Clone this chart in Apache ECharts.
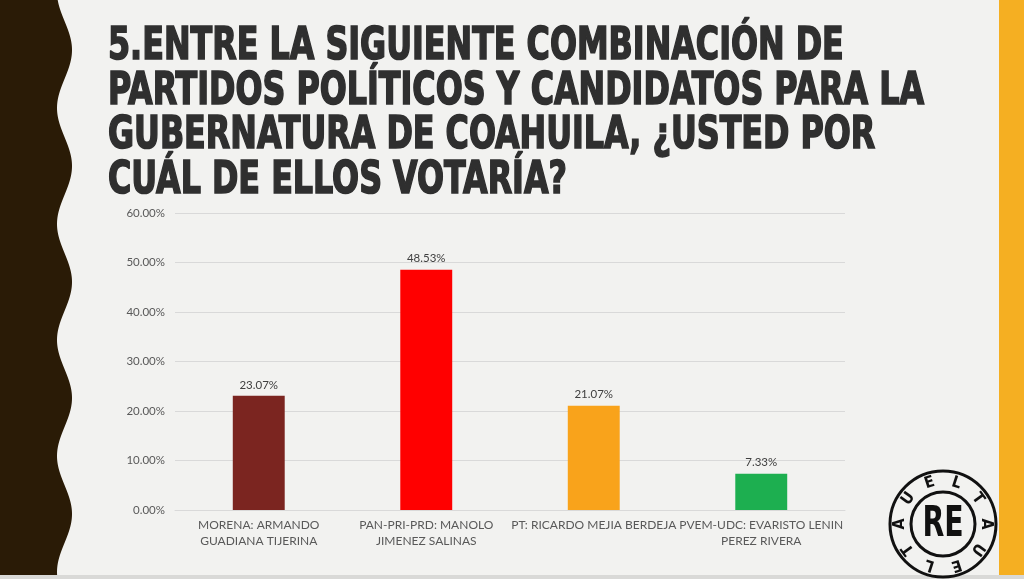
<!DOCTYPE html>
<html>
<head>
<meta charset="utf-8">
<script src="https://cdn.jsdelivr.net/npm/echarts@6/dist/echarts.min.js"></script>
<style>
  html, body { margin: 0; padding: 0; background: #f2f2f0; }
  #chart { width: 1024px; height: 579px; }
</style>
</head>
<body>
<div id="chart"></div>
<script>
// data
const categories = [
  'MORENA: ARMANDO\nGUADIANA TIJERINA',
  'PAN-PRI-PRD: MANOLO\nJIMENEZ SALINAS',
  'PT: RICARDO MEJIA BERDEJA',
  'PVEM-UDC: EVARISTO LENIN\nPEREZ RIVERA'
];
const values = [23.07, 48.53, 21.07, 7.33];
const barColors = ['#7b2520', '#ff0000', '#f9a31b', '#1daf50'];
const titleLines = [
  '5.ENTRE LA SIGUIENTE COMBINACIÓN DE',
  'PARTIDOS POLÍTICOS Y CANDIDATOS PARA LA',
  'GUBERNATURA DE COAHUILA, ¿USTED POR',
  'CUÁL DE ELLOS VOTARÍA?'
];
const ringLetters = ['U', 'E', 'L', 'T', 'A', 'U', 'E', 'L', 'T', 'A'];

const titleFont = '"DejaVu Sans Condensed", "DejaVu Sans", sans-serif';
const titleSize = 45;

// squeeze the title so it reads like the narrow display face in the slide
const ctx = document.createElement('canvas').getContext('2d');
ctx.font = 'bold ' + titleSize + 'px ' + titleFont;
const titleScale = 816 / ctx.measureText(titleLines[1]).width;

const graphics = [];

// wavy dark band on the left
const wave = [];
for (let y = 0; y <= 579; y += 2) {
  wave.push([64.5 + 7.5 * Math.cos(2 * Math.PI * (y - 50) / 116), y]);
}
wave.push([0, 579], [0, 0]);
graphics.push({ type: 'polygon', shape: { points: wave }, style: { fill: '#2a1b06' }, silent: true });

// orange band on the right and thin grey strip at the bottom
graphics.push({ type: 'rect', shape: { x: 999, y: 0, width: 25, height: 579 }, style: { fill: '#f5af22' }, silent: true });
graphics.push({ type: 'rect', shape: { x: 0, y: 575, width: 1024, height: 4 }, style: { fill: '#d9d9d7' }, silent: true });

// title
const titleY = [47, 92, 136, 181];
titleLines.forEach((t, i) => {
  graphics.push({
    type: 'text', x: 108, y: titleY[i], scaleX: titleScale,
    style: {
      text: t, fill: '#2f2f2f', stroke: '#2f2f2f', lineWidth: 1.6,
      font: 'bold ' + titleSize + 'px ' + titleFont,
      textAlign: 'left', textVerticalAlign: 'middle'
    },
    silent: true
  });
});

// logo
const cx = 943, cy = 524;
graphics.push({ type: 'circle', shape: { cx: cx, cy: cy, r: 53 }, style: { fill: '#f2f2f0', stroke: '#111', lineWidth: 3 }, silent: true });
graphics.push({ type: 'circle', shape: { cx: cx, cy: cy, r: 32 }, style: { fill: 'none', stroke: '#111', lineWidth: 3 }, silent: true });
ringLetters.forEach((l, i) => {
  const a = (-54 + 36 * i) * Math.PI / 180;
  graphics.push({
    type: 'text', x: cx + 43 * Math.sin(a), y: cy - 43 * Math.cos(a), rotation: -a,
    style: { text: l, fill: '#111', font: 'bold 16px ' + titleFont, textAlign: 'center', textVerticalAlign: 'middle' },
    silent: true
  });
});
graphics.push({
  type: 'text', x: cx, y: cy + 1, scaleX: 0.75,
  style: { text: 'RE', fill: '#111', font: 'bold 42px ' + titleFont, textAlign: 'center', textVerticalAlign: 'middle' },
  silent: true
});

const chart = echarts.init(document.getElementById('chart'));
chart.setOption({
  backgroundColor: '#f2f2f0',
  animation: false,
  grid: { left: 175, right: 179, top: 213, bottom: 69 },
  xAxis: {
    type: 'category',
    data: categories,
    axisLine: { lineStyle: { color: '#d9d9d9' } },
    axisTick: { show: false },
    axisLabel: {
      interval: 0, margin: 7, color: '#595959', fontSize: 12, lineHeight: 16,
      fontFamily: 'Lato, sans-serif'
    }
  },
  yAxis: {
    type: 'value',
    min: 0, max: 60, interval: 10,
    axisLine: { show: false },
    axisTick: { show: false },
    splitLine: { lineStyle: { color: '#d9d9d9' } },
    axisLabel: {
      margin: 10, color: '#595959', fontSize: 11.5, fontFamily: 'Lato, sans-serif',
      formatter: v => v.toFixed(2) + '%'
    }
  },
  series: [{
    type: 'bar',
    barWidth: '31%',
    data: values.map((v, i) => ({ value: v, itemStyle: { color: barColors[i] } })),
    label: {
      show: true, position: 'top', distance: 5, color: '#404040', fontSize: 11.5,
      fontFamily: 'Lato, sans-serif',
      formatter: p => p.value.toFixed(2) + '%'
    }
  }],
  graphic: { elements: graphics }
});
</script>
</body>
</html>
